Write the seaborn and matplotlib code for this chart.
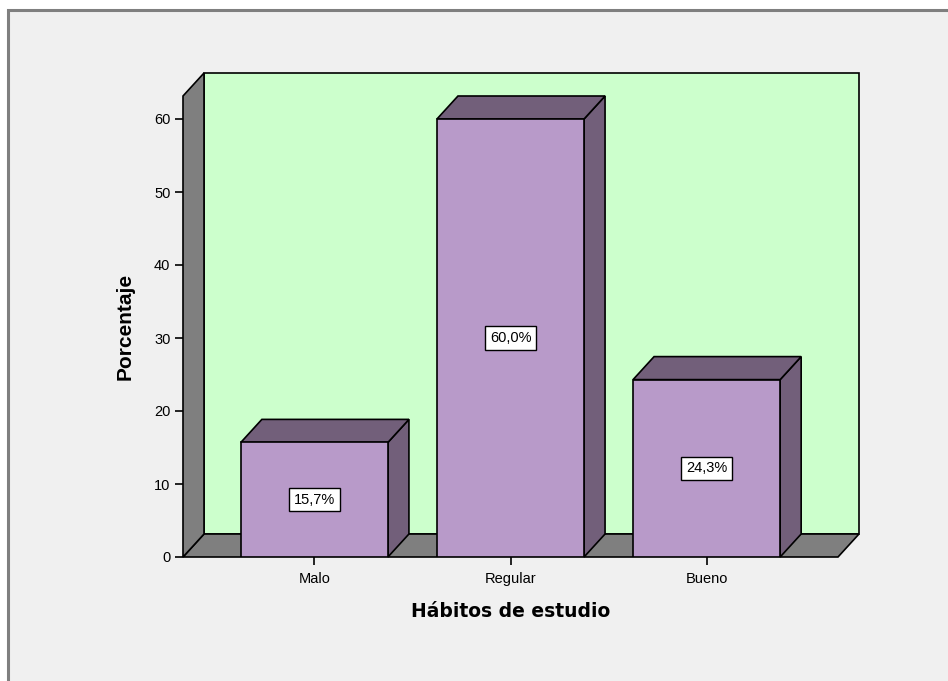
import matplotlib
matplotlib.use("Agg")
import matplotlib.pyplot as plt
from matplotlib.patches import Polygon, Rectangle
import pandas as pd
import seaborn as sns

# datos del gráfico
categorias = ["Malo", "Regular", "Bueno"]
porcentajes = [15.7, 60.0, 24.3]
etiquetas = ["15,7%", "60,0%", "24,3%"]
ticks_y = [0, 10, 20, 30, 40, 50, 60]

df = pd.DataFrame({"habitos": categorias, "porcentaje": porcentajes})

sns.set_style("white")
plt.rcParams["font.family"] = ["Liberation Sans", "DejaVu Sans"]
plt.rcParams["text.color"] = "black"
plt.rcParams["axes.labelcolor"] = "black"
plt.rcParams["xtick.color"] = "black"
plt.rcParams["ytick.color"] = "black"

W, H = 948, 681
fig = plt.figure(figsize=(W / 100, H / 100), dpi=100)
fig.patch.set_facecolor("white")
# marco gris claro del visor (sin borde abajo ni a la derecha)
fig.patches.append(Rectangle((8 / W, -0.05), 1, (H - 10) / H + 0.05, transform=fig.transFigure,
                             facecolor="#f0f0f0", edgecolor="#7f7f7f", lw=2.2, zorder=-10))

# plano frontal del gráfico en pixeles
x0, x1, y0, y1 = 183, 838, 557, 96
ax = fig.add_axes([x0 / W, (H - y0) / H, (x1 - x0) / W, (y0 - y1) / H])
ax.set_facecolor("none")

ancho = 0.75
sns.barplot(data=df, x="habitos", y="porcentaje", width=ancho, color="#b89ac9",
            saturation=1, edgecolor="black", linewidth=1.2, ax=ax, zorder=3)

xl, xr = -0.67, 2.67
ymax = (y0 - y1) / 7.3
ax.set_xlim(xl, xr)
ax.set_ylim(0, ymax)

# profundidad 3D en unidades de datos
dx = 21 / 196
dy = 23 / 7.3

gris = "#7f7f7f"
kw = dict(edgecolor="black", lw=1.2, clip_on=False, joinstyle="miter")
ax.add_patch(Polygon([(xl + dx, dy), (xr + dx, dy), (xr + dx, ymax + dy), (xl + dx, ymax + dy)],
                     closed=True, facecolor="#ccffcc", zorder=1, **kw))
ax.add_patch(Polygon([(xl, 0), (xr, 0), (xr + dx, dy), (xl + dx, dy)],
                     closed=True, facecolor=gris, zorder=1.5, **kw))
ax.add_patch(Polygon([(xl, 0), (xl + dx, dy), (xl + dx, ymax + dy), (xl, ymax)],
                     closed=True, facecolor=gris, zorder=1.5, **kw))

oscuro = "#725f7a"
for i, h in enumerate(porcentajes):
    a, b = i - ancho / 2, i + ancho / 2
    ax.add_patch(Polygon([(b, 0), (b + dx, dy), (b + dx, h + dy), (b, h)],
                         closed=True, facecolor=oscuro, zorder=2.5, **kw))
    ax.add_patch(Polygon([(a, h), (a + dx, h + dy), (b + dx, h + dy), (b, h)],
                         closed=True, facecolor=oscuro, zorder=2.5, **kw))
    ax.text(i, h / 2, etiquetas[i], ha="center", va="center", fontsize=10.5, zorder=5,
            bbox=dict(boxstyle="square,pad=0.32", facecolor="white", edgecolor="black", lw=1))

for s in ax.spines.values():
    s.set_visible(False)
ax.set_yticks(ticks_y)
ax.tick_params(axis="both", direction="out", length=6, width=1.2, color="black",
               labelsize=10.5, left=True, bottom=True)
ax.tick_params(axis="x", pad=5)
ax.tick_params(axis="y", pad=3)

ax.set_ylabel("Porcentaje", fontsize=15, fontweight="bold", labelpad=14)
ax.set_xlabel("Hábitos de estudio", fontsize=13.5, fontweight="bold",
              family="DejaVu Sans", labelpad=11)

fig.savefig("out.png", dpi=100)
